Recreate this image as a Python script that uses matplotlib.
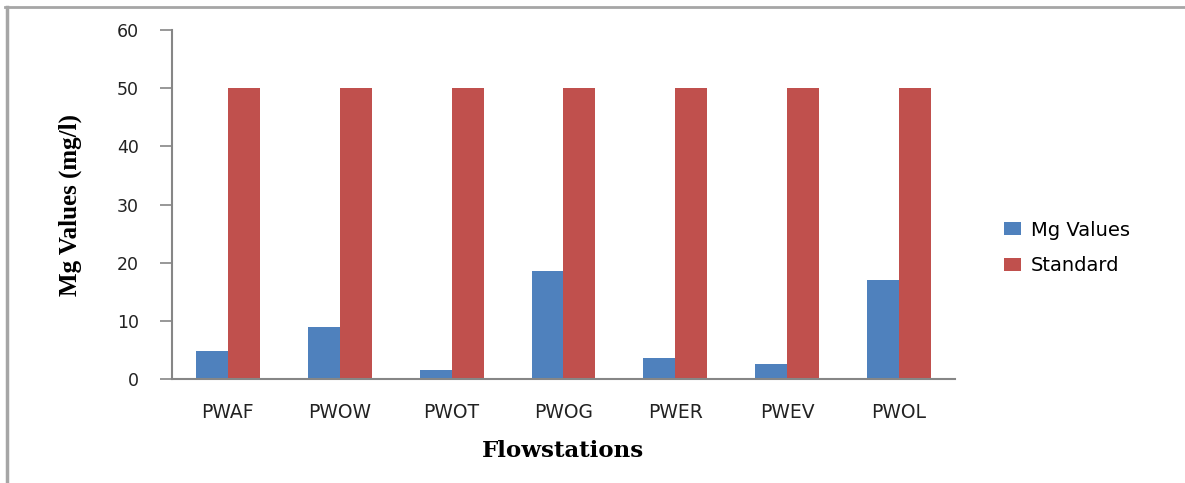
import matplotlib
matplotlib.use("Agg")
import matplotlib.pyplot as plt
import numpy as np
from matplotlib.lines import Line2D

categories = ["PWAF", "PWOW", "PWOT", "PWOG", "PWER", "PWEV", "PWOL"]
mg_values = [4.8, 9.0, 1.5, 18.5, 3.6, 2.6, 17.0]
standard = [50, 50, 50, 50, 50, 50, 50]
y_ticks = [0, 10, 20, 30, 40, 50, 60]

W, H = 1185, 483
fig = plt.figure(figsize=(W / 100, H / 100), dpi=100)
fig.patch.set_facecolor("white")

L, R, T, B = 172, 955, 30, 379
ax = fig.add_axes([L / W, 1 - B / H, (R - L) / W, (B - T) / H])

x = np.arange(len(categories))
bw = 0.286
gray = "#868686"
ax.bar(x - bw / 2, mg_values, width=bw, color="#4F81BD", label="Mg Values")
ax.bar(x + bw / 2, standard, width=bw, color="#C0504D", label="Standard")

ax.set_xlim(-0.5, len(categories) - 0.5)
ax.set_ylim(0, 60)
ax.set_yticks(y_ticks)
ax.set_yticklabels([str(v) for v in y_ticks], fontfamily="DejaVu Sans", fontsize=12.5, color="#222222")
ax.set_xticks(x)
ax.set_xticklabels(categories, fontfamily="DejaVu Sans", fontsize=13.5, color="#222222")
ax.tick_params(axis="y", length=9, width=1.2, color=gray, pad=15)
ax.tick_params(axis="x", length=0, pad=17)
for s in ["top", "right"]:
    ax.spines[s].set_visible(False)
for s in ["left", "bottom"]:
    ax.spines[s].set_color(gray)
    ax.spines[s].set_linewidth(1.5)

ax.set_ylabel("Mg Values (mg/l)", fontfamily="Liberation Serif", fontweight="bold",
              fontsize=18)
ax.yaxis.set_label_coords(-(L - 82) / (R - L), 0.5)
ax.set_xlabel("Flowstations", fontfamily="DejaVu Serif", fontweight="bold", fontsize=16.5)
ax.xaxis.set_label_coords((563 - L) / (R - L), -(440 - B) / (B - T))

fig.legend(loc="center left", bbox_to_anchor=(986 / W, 1 - 248 / H), frameon=False,
           prop={"family": "DejaVu Sans", "size": 14}, handlelength=0.9, handleheight=0.65,
           handletextpad=0.5, labelspacing=0.85)

# outer frame
fig.add_artist(Line2D([6.5 / W, 6.5 / W], [0, 1 - 7 / H], transform=fig.transFigure, color="#A6A6A6", lw=2.5))
fig.add_artist(Line2D([5 / W, 1], [1 - 7 / H, 1 - 7 / H], transform=fig.transFigure, color="#A6A6A6", lw=2.0))

fig.savefig("out.png", dpi=100)
